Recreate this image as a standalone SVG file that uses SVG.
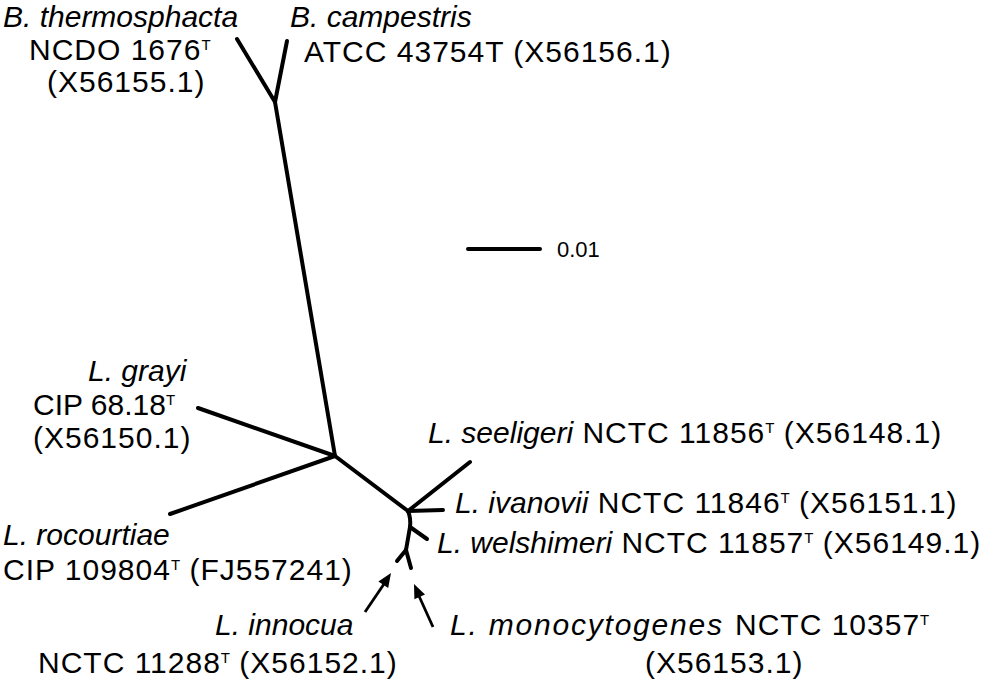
<svg xmlns="http://www.w3.org/2000/svg" width="994" height="685" viewBox="0 0 994 685">
<style>
text{font-family:"Liberation Sans",Arial,sans-serif;font-size:30px;fill:#000}
.i{font-style:italic;letter-spacing:0}
.r{letter-spacing:1px}
.s{font-size:15px;letter-spacing:0}
.br{stroke:#000;stroke-width:4;fill:none;stroke-linecap:round;stroke-linejoin:round}
.ar{stroke:#000;stroke-width:2.8;fill:none}
.hd{fill:#000}
</style>
<rect width="994" height="685" fill="#fff"/>
<g id="connectors">
<path class="br" d="M237,39 L275,102"/>
<path class="br" d="M287,41 L275,102"/>
<path class="br" d="M275,102 L335,456"/>
<path class="br" d="M198,408 L335,456"/>
<path class="br" d="M170,514 L335,456"/>
<path class="br" d="M335,456 L408,511"/>
<path class="br" d="M408,511 L470,462"/>
<path class="br" d="M408,511 L443,510"/>
<path class="br" d="M408,511 Q411,518 410,527 L427,539"/>
<path class="br" d="M410,527 L406,550"/>
<path class="br" d="M406,550 L397,561"/>
<path class="br" d="M406,550 L411,568"/>
<path class="ar" d="M365,612 L384,584"/>
<polygon class="hd" points="391,573 388.2,588 378.4,581.4"/>
<path class="ar" d="M433,627 L419,596"/>
<polygon class="hd" points="414,584 425,594.4 414.4,599.2"/>
<path class="br" d="M468,249 L540,249"/>
</g>
<g id="scale"><text x="557" y="257" style="font-size:22px">0.01</text></g>
<g id="thermosphacta">
<text x="3" y="27" class="i">B. thermosphacta</text>
<text x="29" y="60" class="r">NCDO 1676<tspan class="s" dy="-10">T</tspan></text>
<text x="47" y="92" class="r">(X56155.1)</text>
</g>
<g id="campestris">
<text x="290" y="27" class="i">B. campestris</text>
<text x="304" y="62" class="r">ATCC 43754T (X56156.1)</text>
</g>
<g id="grayi">
<text x="88" y="381" class="i">L. grayi</text>
<text x="33" y="415">CIP 68.18<tspan class="s" dy="-10">T</tspan></text>
<text x="33" y="448" class="r">(X56150.1)</text>
</g>
<g id="rocourtiae">
<text x="3" y="545" class="i">L. rocourtiae</text>
<text x="3" y="580" class="r">CIP 109804<tspan class="s" dy="-10">T</tspan><tspan dy="10"> (FJ557241)</tspan></text>
</g>
<g id="seeligeri">
<text x="428" y="443"><tspan class="i">L. seeligeri</tspan><tspan class="r"> NCTC 11856</tspan><tspan class="s" dy="-10">T</tspan><tspan class="r" dy="10"> (X56148.1)</tspan></text>
</g>
<g id="ivanovii">
<text x="455" y="513"><tspan class="i">L. ivanovii</tspan><tspan class="r"> NCTC 11846</tspan><tspan class="s" dy="-10">T</tspan><tspan class="r" dy="10"> (X56151.1)</tspan></text>
</g>
<g id="welshimeri">
<text x="437" y="553"><tspan class="i">L. welshimeri</tspan><tspan class="r"> NCTC 11857</tspan><tspan class="s" dy="-10">T</tspan><tspan class="r" dy="10"> (X56149.1)</tspan></text>
</g>
<g id="innocua">
<text x="215" y="635" class="i">L. innocua</text>
<text x="38" y="673" class="r">NCTC 11288<tspan class="s" dy="-10">T</tspan><tspan dy="10"> (X56152.1)</tspan></text>
</g>
<g id="monocytogenes">
<text x="450" y="635" class="i" textLength="272" lengthAdjust="spacing">L. monocytogenes</text>
<text x="735" y="635" class="r">NCTC 10357<tspan class="s" dy="-10">T</tspan></text>
<text x="645" y="673" class="r">(X56153.1)</text>
</g>
</svg>
